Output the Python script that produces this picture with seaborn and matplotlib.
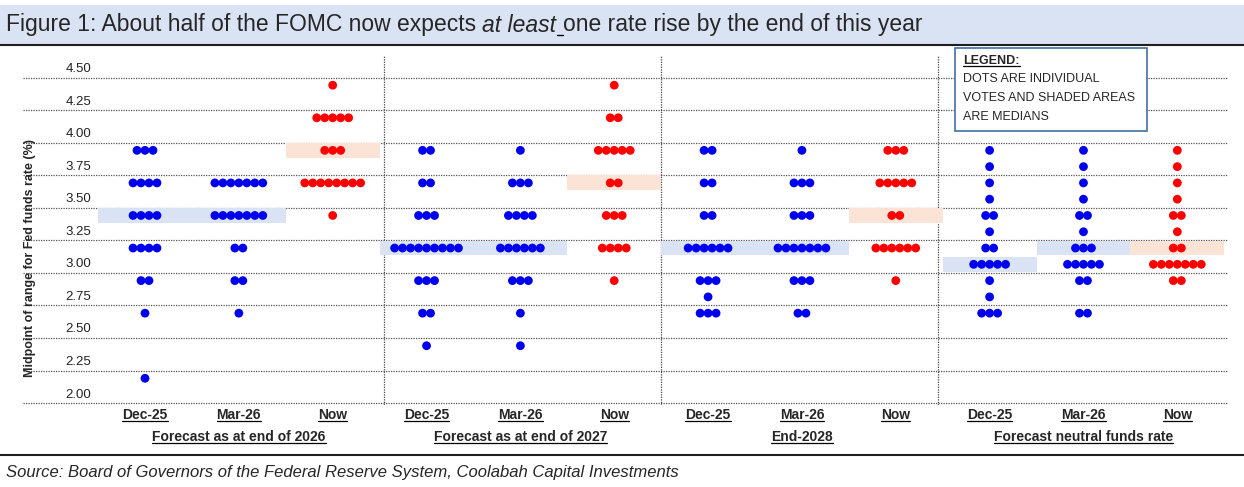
import pandas as pd
import seaborn as sns
import matplotlib.pyplot as plt
from matplotlib.lines import Line2D
from matplotlib.patches import Rectangle

# columns of the dot plot, left to right
groups = ["Forecast as at end of 2026", "Forecast as at end of 2027", "End-2028", "Forecast neutral funds rate"]
columns = ["Dec-25", "Mar-26", "Now"]

# votes per column: {rate: number of dots}
votes = [
    {3.875: 3, 3.625: 4, 3.375: 4, 3.125: 4, 2.875: 2, 2.625: 1, 2.125: 1},
    {3.625: 7, 3.375: 7, 3.125: 2, 2.875: 2, 2.625: 1},
    {4.375: 1, 4.125: 5, 3.875: 3, 3.625: 8, 3.375: 1},
    {3.875: 2, 3.625: 2, 3.375: 3, 3.125: 9, 2.875: 3, 2.625: 2, 2.375: 1},
    {3.875: 1, 3.625: 3, 3.375: 4, 3.125: 6, 2.875: 3, 2.625: 1, 2.375: 1},
    {4.375: 1, 4.125: 2, 3.875: 5, 3.625: 2, 3.375: 3, 3.125: 4, 2.875: 1},
    {3.875: 2, 3.625: 2, 3.375: 2, 3.125: 6, 2.875: 3, 2.75: 1, 2.625: 3},
    {3.875: 1, 3.625: 3, 3.375: 3, 3.125: 7, 2.875: 3, 2.625: 2},
    {3.875: 3, 3.625: 5, 3.375: 2, 3.125: 6, 2.875: 1},
    {3.875: 1, 3.75: 1, 3.625: 1, 3.5: 1, 3.375: 2, 3.25: 1, 3.125: 2, 3.0: 5, 2.875: 1, 2.75: 1, 2.625: 3},
    {3.875: 1, 3.75: 1, 3.625: 1, 3.5: 1, 3.375: 2, 3.25: 1, 3.125: 3, 3.0: 5, 2.875: 2, 2.625: 2},
    {3.875: 1, 3.75: 1, 3.625: 1, 3.5: 1, 3.375: 2, 3.25: 1, 3.125: 2, 3.0: 7, 2.875: 2},
]
medians = [3.375, 3.375, 3.875, 3.125, 3.125, 3.625, 3.125, 3.125, 3.375, 3.0, 3.125, 3.125]
y_ticks = [4.50, 4.25, 4.00, 3.75, 3.50, 3.25, 3.00, 2.75, 2.50, 2.25, 2.00]
legend_lines = ["DOTS ARE INDIVIDUAL", "VOTES AND SHADED AREAS", "ARE MEDIANS"]

BLUE, RED = "#0000ee", "#ff0000"
dx = 0.085

rows = []
for i, col in enumerate(votes):
    kind = "Now" if i % 3 == 2 else "old"
    for rate, n in col.items():
        for k in range(n):
            rows.append({"x": i + (k - (n - 1) / 2) * dx, "rate": rate, "kind": kind})
df = pd.DataFrame(rows)

sns.set_style("white")
plt.rcParams['font.family'] = ['Liberation Sans', 'DejaVu Sans']

fig = plt.figure(figsize=(12.44, 4.87), dpi=100)
ax = fig.add_axes([23 / 1244, 1 - 405 / 487, (1228 - 23) / 1244, 350 / 487])
ax.set_xlim(-1.3, 11.54)
ax.set_ylim(1.92, 4.607)
ax.axis("off")

# gridlines sit a little below each label (as in the original sheet)
for v in y_ticks:
    ax.axhline(v - 0.066, color="#555555", lw=0.9, ls=(0, (1, 1)), zorder=0)
    ax.text(-0.57, v, f"{v:.2f}", ha="right", va="center", fontsize=9.5, color="#222222")
for s in [2.55, 5.5, 8.45]:
    ax.axvline(s, color="#444444", lw=0.9, ls=(0, (1, 1)), zorder=0)

# shaded medians
for i, m in enumerate(medians):
    c = "#fbe3d6" if i % 3 == 2 else "#dae3f3"
    ax.add_patch(Rectangle((i - 0.5, m - 0.057), 1.0, 0.114, color=c, zorder=1, lw=0))

sns.scatterplot(data=df, x="x", y="rate", hue="kind", palette={"old": BLUE, "Now": RED},
                s=40, edgecolor="none", legend=False, ax=ax, zorder=3)

ax.text(-1.23, 3.05, "Midpoint of range for Fed funds rate (%)", rotation=90, ha="center",
        va="center", fontsize=9, fontweight="bold")

# legend box
fig.add_artist(Rectangle((955 / 1244, 1 - 131 / 487), 192 / 1244, 83 / 487, transform=fig.transFigure,
                         facecolor="white", edgecolor="#41719c", lw=1.2, zorder=4))
under = [fig.text(963 / 1244, 1 - 61 / 487, "LEGEND:", fontsize=9, fontweight="bold", va="center", zorder=5)]
for j, line in enumerate(legend_lines):
    fig.text(963 / 1244, 1 - (79 + 19 * j) / 487, line, fontsize=9, va="center", zorder=5)

# category and group labels
for i in range(12):
    under.append(fig.text(ax.transData.transform((i, 0))[0] / 1244, 1 - 415 / 487, columns[i % 3],
                          ha="center", va="center", fontsize=10, fontweight="bold"))
for g, name in enumerate(groups):
    xc = ax.transData.transform((3 * g + 1, 0))[0] / 1244
    under.append(fig.text(xc, 1 - 437 / 487, name, ha="center", va="center", fontsize=10, fontweight="bold"))

# title bar and source line
fig.add_artist(Rectangle((0, 1 - 45 / 487), 1, 40 / 487, transform=fig.transFigure, color="#dae3f3", lw=0))
fig.add_artist(Line2D([0, 1], [1 - 45 / 487] * 2, color="#1f1f1f", lw=1.5))
fig.add_artist(Line2D([0, 1], [1 - 455 / 487] * 2, color="#1f1f1f", lw=1.5))
fig.text(6 / 1244, 1 - 472 / 487, "Source: Board of Governors of the Federal Reserve System, Coolabah Capital Investments",
         fontsize=12, style="italic", va="center")

fig.canvas.draw()
r = fig.canvas.get_renderer()
parts = [("Figure 1: About half of the FOMC now expects ", "normal"), ("at least", "italic"),
         (" ", "normal"), ("one rate rise by the end of this year", "normal")]
x0 = 6
for txt, st in parts:
    t = fig.text(x0 / 1244, 1 - 25 / 487, txt, fontsize=16.5, style=st, va="center")
    w = t.get_window_extent(r).width
    if txt == " ":
        fig.add_artist(Line2D([x0 / 1244, (x0 + w) / 1244], [1 - 35 / 487] * 2, color="black", lw=1))
    x0 += w

for t in under:
    bb = t.get_window_extent(r)
    fig.add_artist(Line2D([bb.x0 / 1244, bb.x1 / 1244], [(bb.y0 + 1) / 487] * 2, color="black", lw=0.9,
                          zorder=6))

fig.savefig("out.png", dpi=100)
